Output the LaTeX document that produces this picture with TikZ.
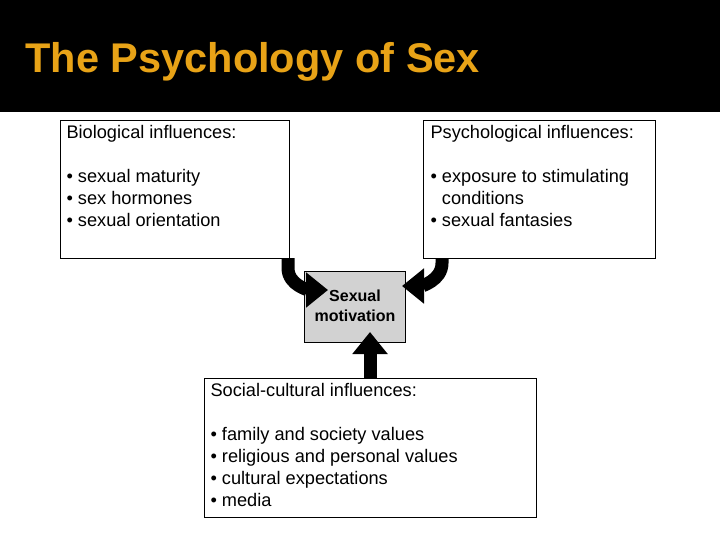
\documentclass[tikz,border=0pt]{standalone}
\usepackage{fontspec}
\setmainfont{Liberation Sans}
\usetikzlibrary{arrows.meta}
\definecolor{gold}{RGB}{232,163,23}
\begin{document}
\begin{tikzpicture}[x=1pt,y=1pt,
  box/.style={draw,line width=0.6pt,anchor=north west,inner sep=0pt},
  txt/.style={anchor=north west,align=left,font=\fontsize{18.2}{22}\selectfont},
  big/.style={line width=13pt,-{Triangle[width=34pt,length=22pt]}}]
\useasboundingbox (0,0) rectangle (720,-540);
\fill[black] (0,0) rectangle (720,-112);
\node[anchor=west,text=gold,font=\fontsize{41.5}{44}\selectfont\bfseries] (title) at (22,-62) {The Psychology of Sex};
\node[box,minimum width=229pt,minimum height=138pt] (bio) at (60,-120) {};
\node[txt] (biot) at (63,-122) {Biological influences:\\[22pt]• sexual maturity\\• sex hormones\\• sexual orientation};
\node[box,minimum width=232pt,minimum height=138pt] (psy) at (423,-120) {};
\node[txt] (psyt) at (427,-122) {Psychological influences:\\[22pt]• exposure to stimulating\\\phantom{• }conditions\\• sexual fantasies};
\node[box,fill=gray!35,minimum width=101pt,minimum height=71pt] (sm) at (304,-271) {};
\node[align=center,font=\fontsize{16}{20}\selectfont\bfseries] (smt) at (355,-306) {Sexual\\motivation};
\node[box,minimum width=332pt,minimum height=139pt] (soc) at (204,-378) {};
\node[txt] (soct) at (207,-380) {Social-cultural influences:\\[22pt]• family and society values\\• religious and personal values\\• cultural expectations\\• media};
\coordinate (a1) at (288,-258);
\coordinate (a2) at (442,-258);
\draw[big] (a1) -- (288,-268) to[out=-90,in=180] (328,-290);
\draw[big] (a2) -- (442,-263) to[out=-90,in=0] (402,-286);
\draw[big] (soc.north -| 370,0) -- (370,-332);
\end{tikzpicture}
\end{document}
